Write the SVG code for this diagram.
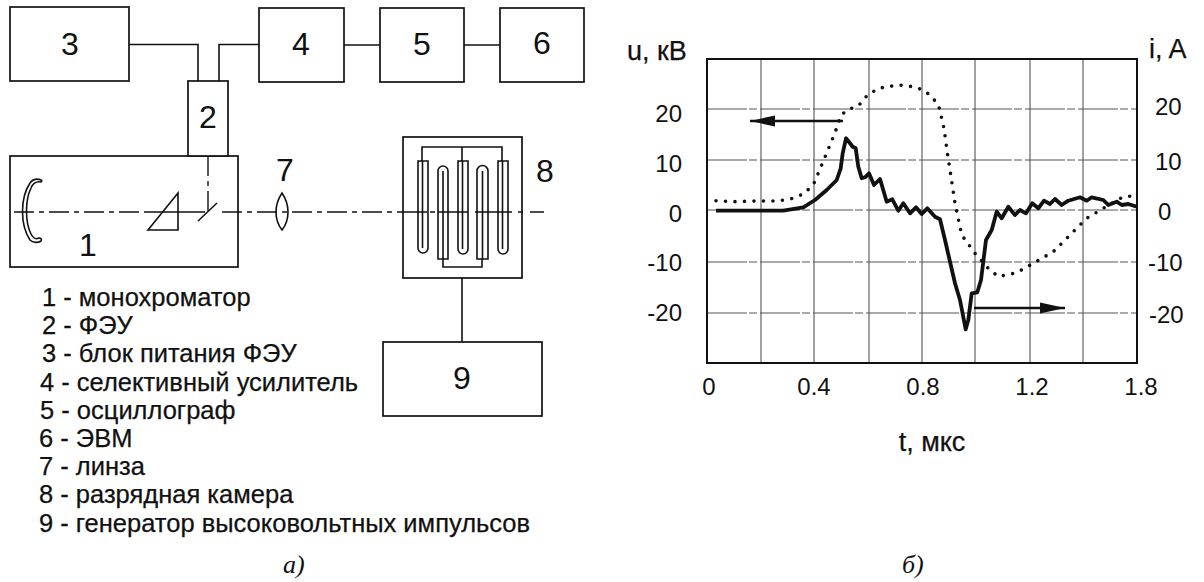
<svg xmlns="http://www.w3.org/2000/svg" width="1204" height="582" viewBox="0 0 1204 582">
<style>
text{font-family:"Liberation Sans",Arial,sans-serif;fill:#111}
.n{font-size:32px;text-anchor:middle}
.l{font-size:25.5px;stroke:#111;stroke-width:.25}
.a{font-size:24px}
.t{font-size:27px;stroke:#111;stroke-width:.25}
.e{text-anchor:end}
.m{text-anchor:middle}
.c{font-family:"Liberation Serif","Times New Roman",serif;font-style:italic;font-size:26px}
.b{fill:#fff;stroke:#111;stroke-width:1.7}
.w{fill:none;stroke:#111;stroke-width:1.6}
.ax{fill:none;stroke:#111;stroke-width:1.4;stroke-dasharray:20 5 5 5}
.g{stroke:#444;stroke-width:1;fill:none}
.g2{stroke:#555;stroke-width:1;fill:none;stroke-dasharray:40 2 8 3}
</style>
<defs>
<marker id="h" markerUnits="userSpaceOnUse" markerWidth="26" markerHeight="12" refX="25" refY="6" orient="auto"><path d="M0 0.5 L25 6 L0 11.5Z" fill="#111"/></marker>
</defs>
<rect width="1204" height="582" fill="#fff"/>
<g id="node-3"><rect class="b" x="10" y="7" width="119" height="74"/><text class="n" x="70" y="55">3</text></g>
<g id="node-4"><rect class="b" x="259" y="8" width="85" height="74"/><text class="n" x="301" y="55">4</text></g>
<g id="node-5"><rect class="b" x="380" y="8" width="84" height="74"/><text class="n" x="422" y="55">5</text></g>
<g id="node-6"><rect class="b" x="500" y="8" width="84" height="74"/><text class="n" x="542" y="54">6</text></g>
<g id="node-1">
<rect class="b" x="10" y="156" width="228" height="111"/>
<text class="n" x="88" y="256">1</text>
<path class="w" d="M41 180 C36 178 33 179 30 183 C20 198 20 225 30 240 C33 243 38 243 41 241 C42 239 41 238 39 238 C35 240 33 238 31 234 C25 222 25 200 31 188 C33 183 36 181 41 182 C42 181 42 180 41 180Z"/>
<path class="w" d="M148 230 L178 193 L178 230Z" stroke-width="2"/>
</g>
<g id="node-2"><rect class="b" x="188" y="81" width="40" height="75"/><text class="n" x="208" y="128">2</text></g>
<g id="node-7"><path class="w" d="M282 193 C278 199 276 206 276 212 C276 218 278 225 282 230 C286 225 288 218 288 212 C288 206 286 199 282 193Z"/><text class="n" x="285" y="181">7</text></g>
<g id="node-8">
<rect class="b" x="403" y="137" width="119" height="141"/>
<path class="w" d="M422 161V147H502V161M462 147V161M443 259V267H482V259"/>
<path class="w" d="M418 161H428V248A5 5 0 0 1 418 248ZM458 161H468V249A5 5 0 0 1 458 249ZM498 161H508V249A5 5 0 0 1 498 249Z"/>
<path class="w" d="M422.500 161V248M462.500 161V249M502.500 161V249"/>
<path class="w" d="M438 259H448V171A5 5 0 0 0 438 171ZM477 259H488V171A5.500 5.500 0 0 0 477 171Z"/>
<path class="w" d="M443 259V171M482.500 259V171"/>
<text class="n" x="545" y="182">8</text>
</g>
<g id="node-9"><rect class="b" x="383" y="342" width="159" height="74"/><text class="n" x="462" y="389">9</text></g>
<g id="connectors">
<path class="w" d="M129 44.500H198V81M259 44.500H219V81M344 45H380M464 45H500M462 278V342"/>
<path class="ax" d="M14 212H148"/>
<path class="w" stroke-width="1.4" d="M148 212H205M397 212H427M438 212H468M475 212H512"/>
<path class="ax" d="M208 156V211"/>
<path class="w" d="M198 221L217 203"/>
<path class="ax" d="M222 212H397"/>
<path class="w" stroke-width="1.4" d="M430 212H435M518 212H523M530 212H544"/>
</g>
<g id="legend">
<text class="l" x="42" y="306">1 - монохроматор</text>
<text class="l" x="42" y="334">2 - ФЭУ</text>
<text class="l" x="42" y="362">3 - блок питания ФЭУ</text>
<text class="l" x="40" y="391">4 - селективный усилитель</text>
<text class="l" x="40" y="419">5 - осциллограф</text>
<text class="l" x="39" y="447">6 - ЭВМ</text>
<text class="l" x="39" y="475">7 - линза</text>
<text class="l" x="39" y="503">8 - разрядная камера</text>
<text class="l" x="39" y="532">9 - генератор высоковольтных импульсов</text>
<text class="c" x="283" y="573">а)</text>
</g>
<g id="chart">
<path class="g" d="M761 59V363M814 59V363M869 59V363M922 59V363M975 59V363M1030 59V363M1083 59V363"/>
<path class="g2" d="M707 109H1137M707 160H1137M707 210H1137M707 262H1137M707 313H1137"/>
<rect x="707" y="59" width="430" height="304" fill="none" stroke="#111" stroke-width="2"/>
<path fill="none" stroke="#111" stroke-width="3.600" stroke-linecap="round" stroke-dasharray="0 9.500" d="M716 200.700 733.300 201.700 758.300 201 776.700 201 790 199.300 803.300 194 813.300 185 821.700 165 830 145 835.700 130.700 840.700 116 846.700 110 858.300 106 866.700 96 878.300 88.300 898.300 85 913.300 86.700 925 90.700 938.300 104 944 128.300 947.300 152.700 950 170 955 203.300 961.700 235 975 253.300 988.300 268.300 998.300 276.700 1016.700 272.700 1033.300 263.300 1053.300 251.700 1073.300 231.700 1086.700 218.300 1103.300 208.300 1123.300 196.700 1136.700 195.700"/>
<path fill="none" stroke="#111" stroke-width="3.800" stroke-linejoin="round" d="M716 210.700 783.300 210.700 803.300 207.300 815 200 826.700 190 836.700 180 840.700 168.300 842.700 153.300 846 138.300 850 143.300 852.700 146.700 855.700 148.300 858.300 166.700 861.700 178.300 865 177.300 869 173.300 874 185 880 179 886.700 201.700 892.300 199.300 898.300 210.700 903.300 203.300 910 213.300 916 207.300 921.700 214 927.300 208.300 935 216.700 940 219.300 945 240 950 261.700 955 283.300 960 300 965.700 329.300 968.300 320 971.700 293.300 977.300 292.300 981 280 986 240 991.700 230 996.700 211.700 1001.700 218.300 1008.300 206.700 1015 215 1020 210 1026 213.300 1032.300 203.300 1038.300 208.300 1044 200.700 1050 204 1055 199 1061.700 205 1068.300 200.700 1080 197.300 1086.700 200.700 1091.700 197.300 1103.300 200 1108.300 205 1116.700 201.700 1121.700 205 1128.300 204 1137 206.700"/>
<path stroke="#111" stroke-width="2.400" fill="none" marker-end="url(#h)" d="M843 121H750"/>
<path stroke="#111" stroke-width="2.400" fill="none" marker-end="url(#h)" d="M974 308H1065"/>
<text class="t" x="627" y="60">u, кВ</text>
<text class="t" x="1149" y="58">i, A</text>
<text class="a e" x="682" y="122">20</text>
<text class="a e" x="682" y="172">10</text>
<text class="a e" x="682" y="222">0</text>
<text class="a e" x="682" y="271">-10</text>
<text class="a e" x="682" y="321">-20</text>
<text class="a" x="1155" y="115">20</text>
<text class="a" x="1155" y="170">10</text>
<text class="a" x="1158" y="220">0</text>
<text class="a" x="1148" y="271">-10</text>
<text class="a" x="1149" y="323">-20</text>
<text class="a m" x="709" y="395">0</text>
<text class="a m" x="814" y="395">0.4</text>
<text class="a m" x="923" y="395">0.8</text>
<text class="a m" x="1032" y="395">1.2</text>
<text class="a m" x="1141" y="395">1.8</text>
<text class="t m" x="932" y="451">t, мкс</text>
<text class="c" x="902" y="573">б)</text>
</g>
</svg>
